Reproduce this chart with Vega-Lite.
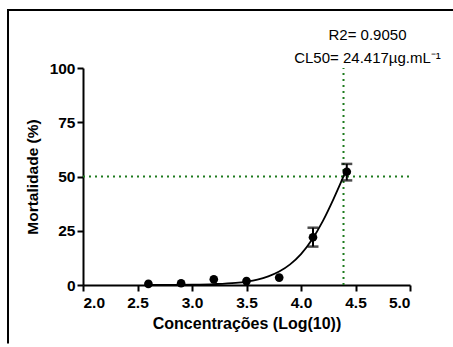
{
  "$schema": "https://vega.github.io/schema/vega-lite/v6.json",
  "width": 327,
  "height": 217,
  "autosize": "none",
  "padding": {"left": 83, "top": 68, "right": 43, "bottom": 62},
  "background": "white",
  "config": {
    "view": {"stroke": null},
    "font": "Liberation Sans",
    "axis": {
      "domainColor": "black", "domainWidth": 2, "tickColor": "black", "tickWidth": 2, "tickSize": 6,
      "labelFont": "Liberation Sans", "labelFontWeight": "bold", "labelFontSize": 15.5, "labelColor": "black",
      "titleFont": "Liberation Sans", "titleFontWeight": "bold", "titleColor": "black",
      "grid": false
    }
  },
  "datasets": {
    "pts": [
      {"x": 2.6, "y": 0.5, "lo": 0.5, "hi": 0.5},
      {"x": 2.9, "y": 0.8, "lo": 0.8, "hi": 0.8},
      {"x": 3.2, "y": 2.6, "lo": 2.6, "hi": 2.6},
      {"x": 3.5, "y": 1.8, "lo": 1.8, "hi": 1.8},
      {"x": 3.8, "y": 3.4, "lo": 3.4, "hi": 3.4},
      {"x": 4.11, "y": 22.0, "lo": 17.7, "hi": 26.4},
      {"x": 4.42, "y": 52.2, "lo": 48.2, "hi": 55.8}
    ],
    "curve": [
      {"x": 2.6, "y": 0.03}, {"x": 2.8, "y": 0.07}, {"x": 3.0, "y": 0.17}, {"x": 3.2, "y": 0.42},
      {"x": 3.4, "y": 1.0}, {"x": 3.5, "y": 1.6}, {"x": 3.6, "y": 2.5}, {"x": 3.7, "y": 4.0},
      {"x": 3.8, "y": 6.2}, {"x": 3.9, "y": 9.5}, {"x": 4.0, "y": 14.2}, {"x": 4.1, "y": 20.8},
      {"x": 4.2, "y": 29.4}, {"x": 4.3, "y": 39.8}, {"x": 4.35, "y": 45.4}, {"x": 4.4, "y": 51.2},
      {"x": 4.42, "y": 53.4}
    ],
    "vline": [{"x": 4.39, "y": 0, "y2": 100}],
    "hline": [{"x": 2.0, "x2": 5.0, "y": 50}],
    "frame": [
      {"o": 1, "x": 5.5, "y": 126.7},
      {"o": 2, "x": 1.312, "y": 126.7},
      {"o": 3, "x": 1.312, "y": -27}
    ],
    "notes": [
      {"x": 4.61, "y": 112.9, "label": "R2= 0.9050"},
      {"x": 4.61, "y": 102.3, "label": "CL50= 24.417µg.mL⁻¹"}
    ]
  },
  "layer": [
    {
      "data": {"name": "frame"},
      "mark": {"type": "line", "color": "black", "strokeWidth": 2, "clip": false, "strokeJoin": "miter"},
      "encoding": {
        "x": {"field": "x", "type": "quantitative"},
        "y": {"field": "y", "type": "quantitative"},
        "order": {"field": "o", "type": "quantitative"}
      }
    },
    {
      "data": {"name": "hline"},
      "mark": {"type": "rule", "color": "#1e7b1e", "strokeWidth": 2, "strokeDash": [2, 4]},
      "encoding": {
        "x": {"field": "x", "type": "quantitative"},
        "x2": {"field": "x2"},
        "y": {"field": "y", "type": "quantitative"}
      }
    },
    {
      "data": {"name": "vline"},
      "mark": {"type": "rule", "color": "#1e7b1e", "strokeWidth": 2, "strokeDash": [2, 4]},
      "encoding": {
        "x": {"field": "x", "type": "quantitative"},
        "y": {"field": "y", "type": "quantitative"},
        "y2": {"field": "y2"}
      }
    },
    {
      "data": {"name": "curve"},
      "mark": {"type": "line", "color": "black", "strokeWidth": 1.8, "interpolate": "monotone"},
      "encoding": {
        "x": {"field": "x", "type": "quantitative"},
        "y": {"field": "y", "type": "quantitative"}
      }
    },
    {
      "data": {"name": "pts"},
      "mark": {"type": "rule", "color": "black", "strokeWidth": 2},
      "encoding": {
        "x": {"field": "x", "type": "quantitative"},
        "y": {"field": "lo", "type": "quantitative"},
        "y2": {"field": "hi"}
      }
    },
    {
      "data": {"name": "pts"},
      "transform": [{"filter": "datum.hi > datum.lo"}, {"fold": ["lo", "hi"], "as": ["k", "v"]}],
      "mark": {"type": "tick", "orient": "horizontal", "color": "black", "thickness": 2.5, "size": 11},
      "encoding": {
        "x": {"field": "x", "type": "quantitative"},
        "y": {"field": "v", "type": "quantitative"}
      }
    },
    {
      "data": {"name": "pts"},
      "mark": {"type": "circle", "color": "black", "opacity": 1, "size": 75},
      "encoding": {
        "x": {
          "field": "x", "type": "quantitative",
          "scale": {"domain": [2, 5], "nice": false, "zero": false},
          "axis": {"values": [2, 2.5, 3, 3.5, 4, 4.5, 5], "format": ".1f", "title": "Concentrações (Log(10))", "titleFontSize": 16, "labelPadding": 4, "titlePadding": 5}
        },
        "y": {
          "field": "y", "type": "quantitative",
          "scale": {"domain": [0, 100], "nice": false},
          "axis": {"values": [0, 25, 50, 75, 100], "title": "Mortalidade (%)", "titleFontSize": 15.5, "labelPadding": 2, "titlePadding": 9}
        }
      }
    },
    {
      "data": {"name": "notes"},
      "mark": {"type": "text", "font": "Liberation Sans", "fontSize": 15, "color": "black", "align": "center", "baseline": "alphabetic", "clip": false},
      "encoding": {
        "x": {"field": "x", "type": "quantitative"},
        "y": {"field": "y", "type": "quantitative"},
        "text": {"field": "label"}
      }
    }
  ]
}
